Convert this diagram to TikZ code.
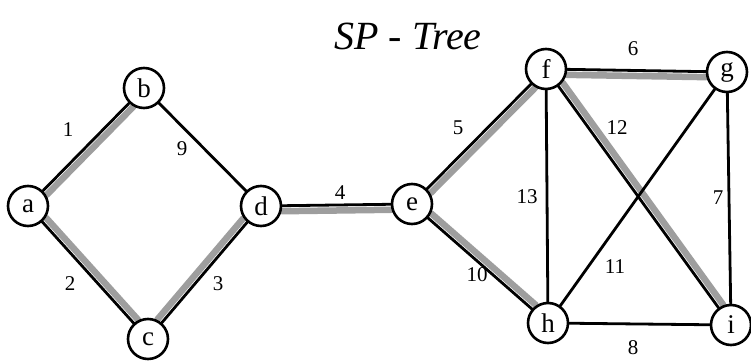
\documentclass[tikz,border=0pt]{standalone}
\usepackage{fontspec}
\setmainfont{Liberation Serif}
\usetikzlibrary{calc}
\tikzset{
  vtx/.style={circle,draw=black,line width=2.6pt,fill=white,minimum size=40pt,inner sep=0pt,font=\fontsize{27}{28}\selectfont},
  edge/.style={line width=2.8pt,black},
  hlband/.style={line width=6.5pt,black!38,line cap=round},
  wlabel/.style={font=\fontsize{21}{23}\selectfont,inner sep=0pt}
}
\newcommand{\hledge}[3]{%
  \draw[hlband] ($($(#1)!21pt!(#2)$)!5.5pt!#3:(#2)$) -- ($($(#2)!21pt!(#1)$)!5.5pt!-#3:(#1)$);}
\begin{document}
\begin{tikzpicture}[x=1pt,y=-1pt]
\useasboundingbox (0,0) rectangle (751,363);
\coordinate (a) at (28,206);
\coordinate (b) at (144,88);
\coordinate (c) at (148,339);
\coordinate (d) at (261,206);
\coordinate (e) at (412,204);
\coordinate (f) at (546,69);
\coordinate (g) at (727,72);
\coordinate (h) at (548,323);
\coordinate (i) at (731,325);
% highlight bands (SP-tree)
\hledge{a}{b}{-90}
\hledge{a}{c}{90}
\hledge{c}{d}{90}
\hledge{d}{e}{-90}
\hledge{e}{f}{-90}
\hledge{f}{g}{-90}
\hledge{e}{h}{90}
\hledge{f}{i}{90}
% edges
\draw[edge] (a) -- (b);
\draw[edge] (b) -- (d);
\draw[edge] (a) -- (c);
\draw[edge] (c) -- (d);
\draw[edge] (d) -- (e);
\draw[edge] (e) -- (f);
\draw[edge] (f) -- (g);
\draw[edge] (g) -- (i);
\draw[edge] (h) -- (i);
\draw[edge] (e) -- (h);
\draw[edge] (g) -- (h);
\draw[edge] (f) -- (i);
\draw[edge] (f) -- (h);
% vertices
\node[vtx] (na) at (a) {a};
\node[vtx] (nb) at (b) {b};
\node[vtx] (nc) at (c) {c};
\node[vtx] (nd) at (d) {d};
\node[vtx] (ne) at (e) {e};
\node[vtx] (nf) at (f) {f};
\node[vtx] (ng) at (g) {g};
\node[vtx] (nh) at (h) {h};
\node[vtx] (ni) at (i) {i};
% weights
\node[wlabel] (l1) at (68,130) {1};
\node[wlabel] (l9) at (182,149) {9};
\node[wlabel] (l2) at (70,284) {2};
\node[wlabel] (l3) at (218,284) {3};
\node[wlabel] (l4) at (340,193) {4};
\node[wlabel] (l5) at (458,128) {5};
\node[wlabel] (l6) at (633,49) {6};
\node[wlabel] (l12) at (617,128) {12};
\node[wlabel] (l13) at (527,197) {13};
\node[wlabel] (l7) at (718,198) {7};
\node[wlabel] (l11) at (615,267) {11};
\node[wlabel] (l10) at (477,275) {10};
\node[wlabel] (l8) at (633,348) {8};
% title
\node[font=\fontsize{40}{42}\selectfont\itshape,inner sep=0pt] (title) at (408,36) {SP - Tree};
\end{tikzpicture}
\end{document}
